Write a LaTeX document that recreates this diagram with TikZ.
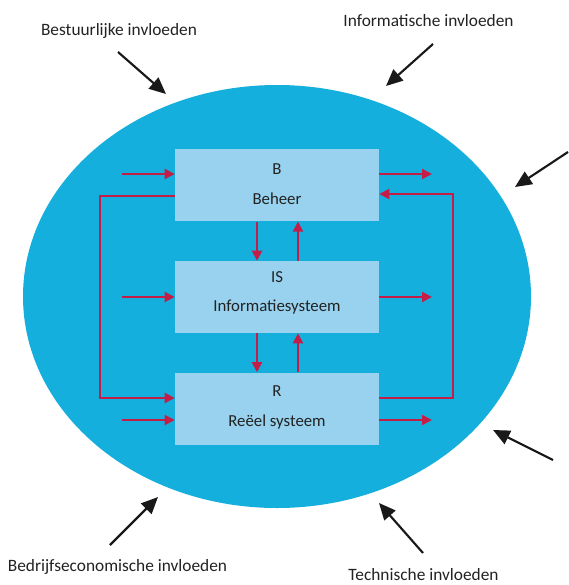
\documentclass[tikz,border=0pt]{standalone}
\usepackage{fontspec}
\setmainfont{Carlito}
\usetikzlibrary{arrows.meta}
\definecolor{ellcol}{RGB}{20,175,220}
\definecolor{boxcol}{RGB}{152,210,238}
\definecolor{redc}{RGB}{196,30,72}
\definecolor{txtc}{RGB}{34,34,34}
\begin{document}
\begin{tikzpicture}[x=0.75pt,y=-0.75pt,
  every node/.style={text=txtc,font=\fontsize{12.6pt}{15pt}\selectfont},
  sysbox/.style={fill=boxcol,draw=none,minimum width=153pt,minimum height=54pt,inner sep=0pt},
  boxtxt/.style={anchor=base,inner sep=0pt},
  redarr/.style={draw=redc,line width=1.5pt,-{Triangle[length=7.5pt,width=7.5pt]}},
  blkarr/.style={draw=black!90,line width=1.6pt,-{Triangle[length=12.5pt,width=11pt]}},
  lbl/.style={inner sep=0pt,font=\fontsize{13pt}{15pt}\selectfont}]
\useasboundingbox (0,0) rectangle (568,585);
\fill[ellcol] (277,296.5) ellipse [x radius=254, y radius=211.5];

\node[sysbox] (B) at (277,185.3) {};
\node[sysbox] (IS) at (277,297) {};
\node[sysbox] (R) at (277,408.5) {};
\node[boxtxt] (Bt1) at (277,174) {B};
\node[boxtxt] (Bt2) at (277,204) {Beheer};
\node[boxtxt] (ISt1) at (277,282.7) {IS};
\node[boxtxt] (ISt2) at (277,311.7) {Informatiesysteem};
\node[boxtxt] (Rt1) at (277,396.7) {R};
\node[boxtxt] (Rt2) at (277,426) {Reëel systeem};

% vertical connectors
\coordinate (xd) at (257,0);
\coordinate (xu) at (298,0);
\draw[redarr] (B.south -| xd) -- (IS.north -| xd);
\draw[redarr] (IS.north -| xu) -- (B.south -| xu);
\draw[redarr] (IS.south -| xd) -- (R.north -| xd);
\draw[redarr] (R.north -| xu) -- (IS.south -| xu);

% inputs
\coordinate (iB) at (122,174);
\coordinate (iIS) at (122,297);
\coordinate (iR) at (122,420);
\draw[redarr] (iB) -- (B.west |- iB);
\draw[redarr] (iIS) -- (IS.west |- iIS);
\draw[redarr] (iR) -- (R.west |- iR);

% outputs
\coordinate (oB) at (432,174);
\coordinate (oIS) at (432,297);
\coordinate (oR) at (432,420);
\draw[redarr] (B.east |- oB) -- (oB);
\draw[redarr] (IS.east |- oIS) -- (oIS);
\draw[redarr] (R.east |- oR) -- (oR);

% feedback loops
\coordinate (lt) at (100,196);
\coordinate (lb) at (100,398);
\draw[redarr] (B.west |- lt) -- (lt) -- (lb) -- (R.west |- lb);
\coordinate (rb) at (453,398);
\coordinate (rt) at (453,194);
\draw[redarr] (R.east |- rb) -- (rb) -- (rt) -- (B.east |- rt);

% influence labels
\node[lbl] (L1) at (119,31) {Bestuurlijke invloeden};
\node[lbl] (L2) at (428.5,21) {Informatische invloeden};
\node[lbl] (L3) at (117.5,567) {Bedrijfseconomische invloeden};
\node[lbl] (L4) at (423.5,574.5) {Technische invloeden};

% influence arrows
\coordinate (t1) at (118,52);  \coordinate (h1) at (166,94);
\coordinate (t2) at (433,44);  \coordinate (h2) at (386,86);
\coordinate (t3) at (568,152); \coordinate (h3) at (515,187);
\coordinate (t4) at (553,460); \coordinate (h4) at (493,430);
\coordinate (t5) at (110,545); \coordinate (h5) at (158,497);
\coordinate (t6) at (423,553); \coordinate (h6) at (379,503);
\draw[blkarr] (t1) -- (h1);
\draw[blkarr] (t2) -- (h2);
\draw[blkarr] (t3) -- (h3);
\draw[blkarr] (t4) -- (h4);
\draw[blkarr] (t5) -- (h5);
\draw[blkarr] (t6) -- (h6);
\end{tikzpicture}
\end{document}
